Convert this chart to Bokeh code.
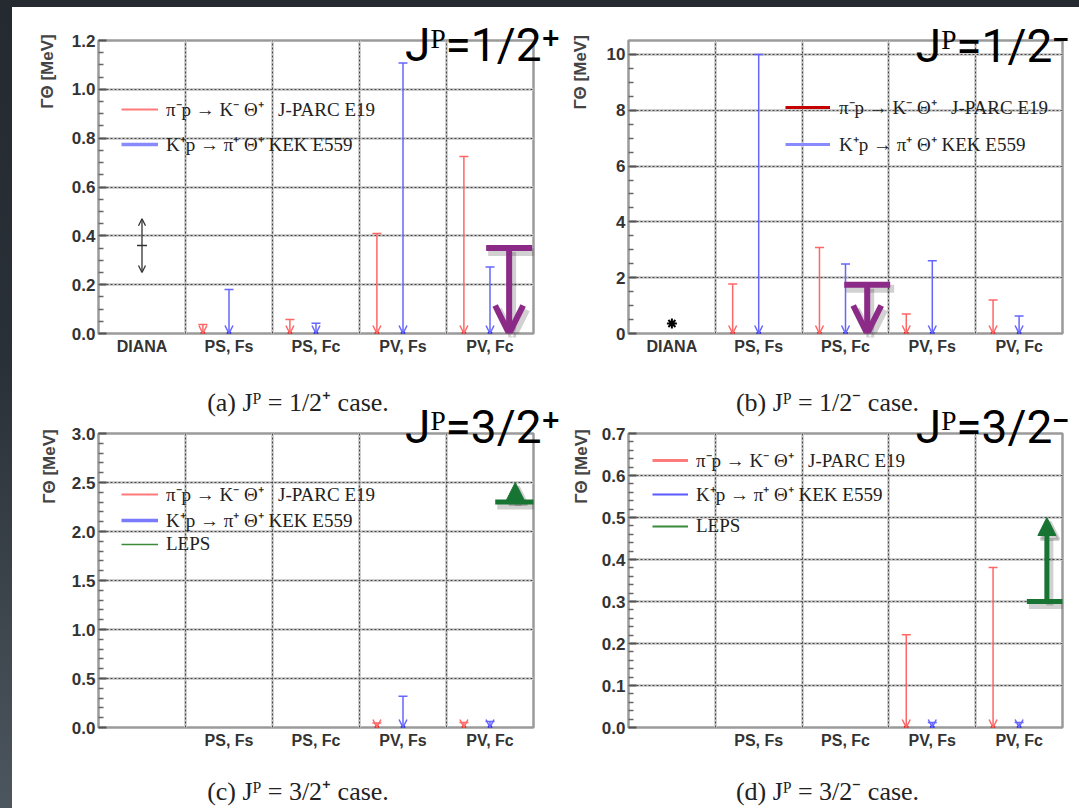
import numpy as np
from bokeh.plotting import figure
from bokeh.models import (Range1d, FixedTicker, Arrow, TeeHead, OpenHead, NormalHead,
                          ColumnDataSource, Legend, LegendItem, Grid, Spacer,
                          PrintfTickFormatter, LinearAxis)
from bokeh.layouts import column, row
from bokeh.embed import file_html
from bokeh.resources import INLINE
from bokeh.core.properties import value

# ---------------- data ----------------
categories = ["DIANA", "PS, Fs", "PS, Fc", "PV, Fs", "PV, Fc"]
categories_cd = ["", "PS, Fs", "PS, Fc", "PV, Fs", "PV, Fc"]

# upper limits on Gamma_Theta [MeV]; None = not shown
a_jparc = [None, 0.037, 0.057, 0.41, 0.725]
a_kek = [None, 0.18, 0.042, 1.108, 0.272]
b_jparc = [None, 1.77, 3.08, 0.70, 1.20]
b_kek = [None, 10.0, 2.49, 2.61, 0.63]
c_jparc = [None, None, None, 0.045, 0.05]
c_kek = [None, None, None, 0.32, 0.06]
d_jparc = [None, None, None, 0.221, 0.381]
d_kek = [None, None, None, 0.012, 0.012]

# DIANA measurement
diana_width = 0.36
diana_low = 0.25
diana_high = 0.47

# hand-drawn annotations (bar value, arrow tip value)
a_marker = [0.35, 0.0]
b_marker = [1.75, 0.0]
c_leps = [2.3, 2.5]
d_leps = [0.3, 0.5]

a_yticks = [0.0, 0.2, 0.4, 0.6, 0.8, 1.0, 1.2]
b_yticks = [0, 2, 4, 6, 8, 10]
c_yticks = [0.0, 0.5, 1.0, 1.5, 2.0, 2.5, 3.0]
d_yticks = [0.0, 0.1, 0.2, 0.3, 0.4, 0.5, 0.6, 0.7]

y_max = {"a": 1.2, "b": 10.5, "c": 3.0, "d": 0.7}

legend_jparc = "π⁻p → K⁻ Θ⁺   J-PARC E19"
legend_kek = "K⁺p → π⁺ Θ⁺ KEK E559"
legend_leps = "LEPS"

headings = {"a": "Jᴾ=1/2⁺", "b": "Jᴾ=1/2⁻", "c": "Jᴾ=3/2⁺", "d": "Jᴾ=3/2⁻"}
captions = {"a": "(a) Jᴾ = 1/2⁺ case.", "b": "(b) Jᴾ = 1/2⁻ case.",
            "c": "(c) Jᴾ = 3/2⁺ case.", "d": "(d) Jᴾ = 3/2⁻ case."}
y_title_text = "ΓΘ [MeV]"

# ---------------- style ----------------
RED = "#ff6666"
BLUE = "#6666ff"
RED_DOT = "#e01010"
BLUE_DOT = "#1010e0"
PURPLE = "#8c2a88"
GREEN = "#177433"
SERIF = "Liberation Serif"
SANS = "Liberation Sans"
HEAD = "Roboto"

# page geometry (figure origin, frame box); rows split at y=382
GEOM = {
    "a": dict(ox=12, oy=7, w=548, h=375, fl=98, ft=40, fr=533, fb=333),
    "b": dict(ox=560, oy=7, w=519, h=375, fl=628, ft=39, fr=1062, fb=333),
    "c": dict(ox=12, oy=382, w=548, h=426, fl=98, ft=433, fr=533, fb=727),
    "d": dict(ox=560, oy=382, w=519, h=426, fl=628, ft=433, fr=1062, fb=727),
}
CAPTION_CX = {"a": 297.5, "b": 827.0, "c": 297.5, "d": 827.0}


def px_to_x(key, px):
    g = GEOM[key]
    return (px - g["fl"]) * 5.0 / (g["fr"] - g["fl"])


def py_to_y(key, py):
    g = GEOM[key]
    return (g["fb"] - py) * y_max[key] / (g["fb"] - g["ft"])


def text_axis(text, pos, standoff, font, size, color, style="normal", orientation="horizontal"):
    return LinearAxis(ticker=FixedTicker(ticks=[pos]), major_label_overrides={pos: text},
                      axis_line_color=None, major_tick_line_color=None, minor_tick_line_color=None,
                      major_tick_in=0, major_tick_out=0, minor_tick_in=0, minor_tick_out=0,
                      major_label_standoff=standoff, major_label_text_font=font,
                      major_label_text_font_size=f"{size}px", major_label_text_color=color,
                      major_label_text_font_style=style, major_label_orientation=orientation)


def make_panel(key, yticks, nminor, fmt, xlabels):
    g = GEOM[key]
    ymax = y_max[key]
    p = figure(width=g["w"], height=g["h"],
               min_border_left=g["fl"] - g["ox"], min_border_right=g["ox"] + g["w"] - g["fr"],
               min_border_top=g["ft"] - g["oy"], min_border_bottom=g["oy"] + g["h"] - g["fb"],
               x_range=Range1d(0, 5), y_range=Range1d(0, ymax),
               output_backend="svg", toolbar_location=None,
               background_fill_color="white", border_fill_color="white")
    minor = []
    for lo, hi in zip(yticks[:-1], yticks[1:]):
        step = (hi - lo) / nminor
        minor += [lo + k * step for k in range(1, nminor)]
    p.yaxis.ticker = FixedTicker(ticks=yticks, minor_ticks=minor)
    p.yaxis.formatter = PrintfTickFormatter(format=fmt)
    p.yaxis.major_label_text_font = SANS
    p.yaxis.major_label_text_font_style = "bold"
    p.yaxis.major_label_text_font_size = "17px"
    p.yaxis.major_label_text_color = "#333333"
    p.yaxis.major_label_standoff = 3
    p.yaxis.major_tick_in = 8
    p.yaxis.major_tick_out = 0
    p.yaxis.minor_tick_in = 5
    p.yaxis.minor_tick_out = 0
    p.yaxis.major_tick_line_color = "#555555"
    p.yaxis.major_tick_line_width = 2
    p.yaxis.minor_tick_line_color = "#666666"
    p.yaxis.minor_tick_line_width = 1.5
    p.yaxis.axis_line_color = None

    centers = [i + 0.5 for i in range(len(xlabels))]
    p.xaxis.ticker = FixedTicker(ticks=centers)
    p.xaxis.major_label_overrides = {c: lab for c, lab in zip(centers, xlabels)}
    p.xaxis.major_label_text_font = SANS
    p.xaxis.major_label_text_font_style = "bold"
    p.xaxis.major_label_text_font_size = "16px"
    p.xaxis.major_label_text_color = "#333333"
    p.xaxis.major_label_standoff = 4
    p.xaxis.major_tick_in = 0
    p.xaxis.major_tick_out = 0
    p.xaxis.minor_tick_in = 0
    p.xaxis.minor_tick_out = 0
    p.xaxis.major_tick_line_color = None
    p.xaxis.minor_tick_line_color = None
    p.xaxis.axis_line_color = None

    bounds = [1, 2, 3, 4]
    p.xgrid.ticker = FixedTicker(ticks=bounds)
    for grd in (p.xgrid, p.ygrid):
        grd.grid_line_color = "#444444"
        grd.grid_line_width = 1
        grd.grid_line_dash = "2 2"
    p.add_layout(Grid(dimension=0, ticker=FixedTicker(ticks=bounds), grid_line_color="#d0d0d0",
                      grid_line_width=3, level="image"))
    p.add_layout(Grid(dimension=1, ticker=FixedTicker(ticks=yticks), grid_line_color="#d0d0d0",
                      grid_line_width=3, level="image"))
    p.outline_line_color = "#9a9a9a"
    p.outline_line_width = 2.5
    return p


def add_heading(p, key, cx, standoff):
    # big slide heading (top right), written as the tick label of an extra top axis
    p.add_layout(text_axis(headings[key], px_to_x(key, cx), standoff, HEAD, 46, "black"), "above")


def add_caption(p, host_key, cap_key, standoff, side):
    # figure caption, written as the tick label of an extra axis
    p.add_layout(text_axis(captions[cap_key], px_to_x(host_key, CAPTION_CX[cap_key]), standoff,
                           SERIF, 26, "#222222"), side)


def add_y_title(p, key, cy, standoff):
    p.add_layout(text_axis(y_title_text, py_to_y(key, cy), standoff, SANS, 17, "#444444",
                           style="bold", orientation="vertical"), "left")


def upper_limits(p, values, offset, color, dot_color):
    xs = [i + 0.5 + offset for i, v in enumerate(values) if v is not None]
    vs = [v for v in values if v is not None]
    src = ColumnDataSource(dict(x=xs, top=vs, base=[0.0] * len(vs)))
    p.add_layout(Arrow(source=src, x_start="x", y_start="top", x_end="x", y_end="base",
                       line_color=color, line_width=1.5,
                       start=TeeHead(size=9, line_color=color, line_width=1.5),
                       end=OpenHead(size=8, line_color=color, line_width=1.5)))
    p.scatter(x="x", y="base", source=src, size=4, color=dot_color)


def big_arrow(p, key, x, vals, color, lw, bar, head_kind, head_size):
    g = GEOM[key]
    dx = 3.0 * 5 / (g["fr"] - g["fl"])
    dy = 4.0 * y_max[key] / (g["fb"] - g["ft"])

    def head(c, alpha, extra):
        if head_kind == "open":
            return OpenHead(size=head_size, line_color=c, line_alpha=alpha, line_width=lw + extra)
        return NormalHead(size=head_size, line_color=c, fill_color=c, line_alpha=alpha,
                          fill_alpha=alpha, line_width=1 + extra)

    shadow = ColumnDataSource(dict(x=[x + dx], y0=[vals[0] - dy], y1=[vals[1] - dy]))
    p.add_layout(Arrow(source=shadow, x_start="x", y_start="y0", x_end="x", y_end="y1",
                       line_color="black", line_alpha=0.18, line_width=lw + 2,
                       start=TeeHead(size=bar + 2, line_color="black", line_alpha=0.18, line_width=lw + 2),
                       end=head("black", 0.18, 2)))
    src = ColumnDataSource(dict(x=[x], y0=[vals[0]], y1=[vals[1]]))
    p.add_layout(Arrow(source=src, x_start="x", y_start="y0", x_end="x", y_end="y1",
                       line_color=color, line_width=lw,
                       start=TeeHead(size=bar, line_color=color, line_width=lw),
                       end=head(color, 1.0, 0)))


def add_legend(p, entries, x, y, glyph_width, spacing, standoff):
    items = []
    for label, color, lw in entries:
        r = p.line(x=[float("nan")], y=[float("nan")], line_color=color, line_width=lw)
        items.append(LegendItem(label=value(label), renderers=[r]))
    leg = Legend(items=items, location=(x, y), padding=0, margin=0, spacing=spacing,
                 glyph_width=glyph_width, glyph_height=20, label_height=20,
                 label_standoff=standoff, background_fill_alpha=0, border_line_color=None,
                 label_text_font=SERIF, label_text_font_size="19px", label_text_color="#222222")
    p.add_layout(leg)


RED_OFF, BLUE_OFF = -0.3, 0.0

# ---------------- panel (a) ----------------
pa = make_panel("a", a_yticks, 4, "%.1f", categories)
dsrc = ColumnDataSource(dict(x=[0.5], lo=[diana_low], hi=[diana_high], c=[diana_width]))
pa.add_layout(Arrow(source=dsrc, x_start="x", y_start="lo", x_end="x", y_end="hi",
                    line_color="#333333", line_width=1.3,
                    start=OpenHead(size=7, line_color="#333333", line_width=1.3),
                    end=OpenHead(size=7, line_color="#333333", line_width=1.3)))
pa.scatter(x="x", y="c", source=dsrc, marker="dash", size=10, line_color="#333333", line_width=1.5)
upper_limits(pa, a_jparc, RED_OFF, RED, RED_DOT)
upper_limits(pa, a_kek, BLUE_OFF, BLUE, BLUE_DOT)
big_arrow(pa, "a", 4.72, a_marker, PURPLE, 6, 46, "open", 28)
add_legend(pa, [(legend_jparc, "#ff7a7a", 2), (legend_kek, "#8a8aff", 3.5)], 23, 176, 37, 9, 8)
add_heading(pa, "a", 482, -31)
add_y_title(pa, "a", 71, 12)

# ---------------- panel (b) ----------------
pb = make_panel("b", b_yticks, 4, "%d", categories)
pb.scatter(x=[0.5], y=[diana_width], marker="asterisk", size=10, line_color="black", line_width=2)
upper_limits(pb, b_jparc, RED_OFF, RED, RED_DOT)
upper_limits(pb, b_kek, BLUE_OFF, BLUE, BLUE_DOT)
big_arrow(pb, "b", 2.75, b_marker, PURPLE, 6, 46, "open", 28)
add_legend(pb, [(legend_jparc, "#c40000", 3), (legend_kek, "#8a8aff", 3)], 157, 176, 45, 11, 9)
add_heading(pb, "b", 992, -32)
add_y_title(pb, "b", 71, 13)

# ---------------- panel (c) ----------------
pc = make_panel("c", c_yticks, 5, "%.1f", categories_cd)
upper_limits(pc, c_jparc, RED_OFF, RED, RED_DOT)
upper_limits(pc, c_kek, BLUE_OFF, BLUE, BLUE_DOT)
big_arrow(pc, "c", 4.79, c_leps, GREEN, 5, 40, "normal", 18)
add_legend(pc, [(legend_jparc, "#ff7a7a", 2), (legend_kek, "#7a7aff", 3.5),
                (legend_leps, "#3a8a3a", 1.5)], 23, 172, 37, 0, 8)
add_heading(pc, "c", 482, -20)
add_caption(pc, "c", "a", -20, "above")
add_caption(pc, "c", "c", 25, "below")
add_y_title(pc, "c", 466, 10)

# ---------------- panel (d) ----------------
pd_ = make_panel("d", d_yticks, 5, "%.1f", categories_cd)
upper_limits(pd_, d_jparc, RED_OFF, RED, RED_DOT)
upper_limits(pd_, d_kek, BLUE_OFF, BLUE, BLUE_DOT)
big_arrow(pd_, "d", 4.82, d_leps, GREEN, 5, 40, "normal", 18)
add_legend(pd_, [(legend_jparc, "#ff7a7a", 3), (legend_kek, "#5a5aff", 2),
                 (legend_leps, "#3a8a3a", 2)], 24, 190, 36, 8, 8)
add_heading(pd_, "d", 992, -20)
add_caption(pd_, "d", "b", -20, "above")
add_caption(pd_, "d", "d", 25, "below")
add_y_title(pd_, "d", 466, 8)

panels = column(row(pa, pb, styles={"background": "white"}),
                row(pc, pd_, styles={"background": "white"}),
                styles={"background": "white"})
layout = column(
    Spacer(width=1079, height=7),
    row(Spacer(width=12, height=801), panels),
    styles={"background": "linear-gradient(to bottom, #252a31 0%, #2a3037 45%, #4c565e 100%)"},
)

html = file_html(layout, INLINE)
html = html.replace("<head>", "<head><style>html,body{margin:0;padding:0;background:#262b32;}</style>", 1)
open("out.html", "w").write(html)
